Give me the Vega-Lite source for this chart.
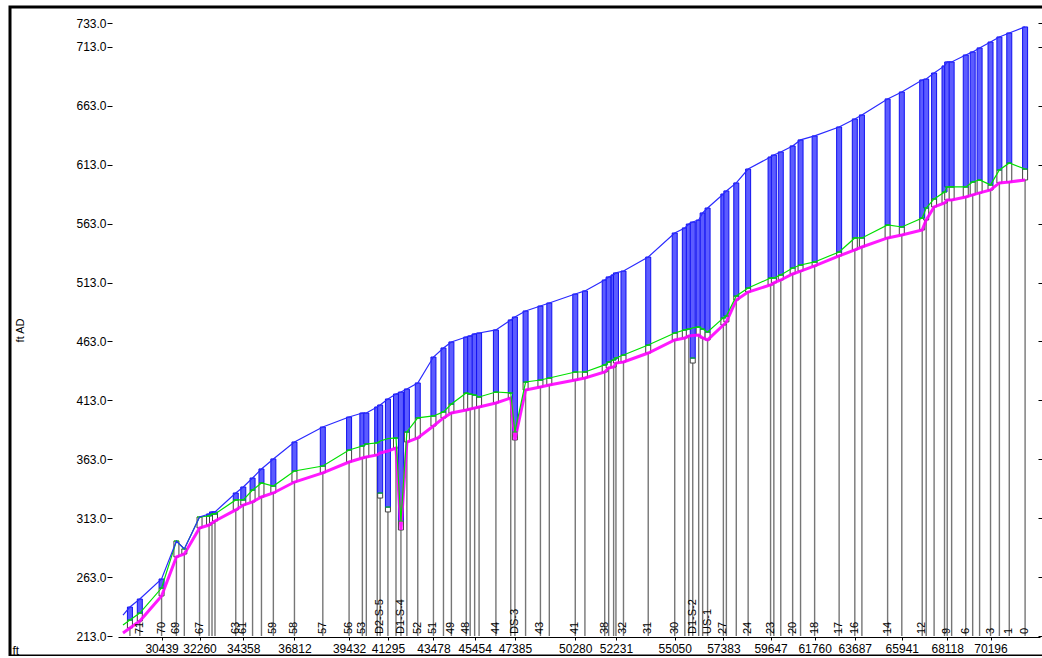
{
  "$schema": "https://vega.github.io/schema/vega-lite/v6.json",
  "width": 1040,
  "height": 649,
  "autosize": {"type": "none"},
  "padding": {"left": 10, "top": 7, "right": 0, "bottom": 0},
  "background": "white",
  "config": {
    "font": "Liberation Sans",
    "view": {"stroke": "#000000", "strokeWidth": 3}
  },
  "resolve": {"axis": {"y": "independent"}},
  "data": {
    "values": [
      {"x": 28589, "top": 230.8, "wl": 222.3, "pipe": 215.5},
      {"x": 28921, "top": 237.6, "hgl": 226.6, "inv": 219.8, "wl": 226.6, "pipe": 219.8},
      {"x": 29395, "top": 244.4, "hgl": 232.5, "inv": 225.7, "wl": 232.5, "pipe": 225.7, "lab": "71"},
      {"x": 30439, "top": 261.4, "hgl": 253.7, "inv": 247.0, "wl": 253.7, "pipe": 247.0, "lab": "70"},
      {"x": 31151, "top": 293.6, "hgl": 293.6, "inv": 280.1, "wl": 293.6, "pipe": 280.1, "lab": "69"},
      {"x": 31530, "top": 286.9, "hgl": 286.9, "inv": 282.6, "wl": 286.9, "pipe": 282.6},
      {"x": 32260, "top": 314.0, "hgl": 314.0, "inv": 304.7, "wl": 314.0, "pipe": 304.7, "lab": "67"},
      {"x": 32716, "top": 316.6, "hgl": 314.9, "inv": 307.2, "wl": 314.9, "pipe": 307.2},
      {"x": 32858, "top": 318.3, "hgl": 316.6, "inv": 308.9, "wl": 316.6, "pipe": 308.9},
      {"x": 33001, "top": 318.3, "hgl": 316.6, "inv": 310.6, "wl": 316.6, "pipe": 310.6},
      {"x": 33997, "top": 334.4, "hgl": 328.5, "inv": 320.0, "wl": 328.5, "pipe": 320.0, "lab": "63"},
      {"x": 34358, "top": 339.5, "hgl": 328.5, "inv": 324.2, "wl": 328.5, "pipe": 324.2, "lab": "61"},
      {"x": 34803, "top": 347.1, "hgl": 336.9, "inv": 326.8, "wl": 336.9, "pipe": 326.8},
      {"x": 35230, "top": 354.8, "hgl": 342.9, "inv": 331.0, "wl": 342.9, "pipe": 331.0},
      {"x": 35800, "top": 363.3, "hgl": 340.3, "inv": 334.4, "wl": 340.3, "pipe": 334.4, "lab": "59"},
      {"x": 36812, "top": 377.7, "hgl": 353.1, "inv": 343.7, "wl": 353.1, "pipe": 343.7, "lab": "58"},
      {"x": 38172, "top": 390.4, "hgl": 357.3, "inv": 351.4, "wl": 357.3, "pipe": 351.4, "lab": "57"},
      {"x": 39432, "top": 398.9, "hgl": 370.9, "inv": 360.7, "wl": 370.9, "pipe": 360.7, "lab": "56"},
      {"x": 40069, "top": 402.3, "hgl": 374.3, "inv": 364.1, "wl": 374.3, "pipe": 364.1, "lab": "53"},
      {"x": 40259, "top": 402.3, "hgl": 376.0, "inv": 365.0, "wl": 376.0, "pipe": 365.0},
      {"x": 40781, "top": 407.4, "hgl": 377.0, "inv": 366.7, "wl": 377.0, "pipe": 366.7},
      {"x": 40923, "top": 409.1, "hgl": 334.4, "inv": 330.1, "wl": 378.5, "pipe": 368.4, "lab": "D2-S-5"},
      {"x": 41295, "top": 414.2, "hgl": 322.5, "inv": 318.3, "wl": 380.5, "pipe": 370.0},
      {"x": 41682, "top": 418.4, "hgl": 381.1, "inv": 372.6, "wl": 381.1, "pipe": 372.6},
      {"x": 41919, "top": 420.1, "hgl": 310.6, "inv": 303.0, "wl": 310.6, "pipe": 303.0, "lab": "D1-S-4"},
      {"x": 42204, "top": 422.7, "hgl": 386.2, "inv": 377.7, "wl": 386.2, "pipe": 377.7},
      {"x": 42726, "top": 427.8, "hgl": 398.1, "inv": 381.1, "wl": 398.1, "pipe": 381.1, "lab": "52"},
      {"x": 43478, "top": 449.8, "hgl": 399.8, "inv": 391.3, "wl": 399.8, "pipe": 391.3, "lab": "51"},
      {"x": 43959, "top": 457.5, "hgl": 403.2, "inv": 398.1, "wl": 403.2, "pipe": 398.1},
      {"x": 44339, "top": 462.6, "hgl": 409.9, "inv": 402.3, "wl": 409.9, "pipe": 402.3, "lab": "49"},
      {"x": 45051, "top": 466.8, "hgl": 419.3, "inv": 404.9, "wl": 419.3, "pipe": 404.9, "lab": "48"},
      {"x": 45240, "top": 467.7, "hgl": 418.4, "inv": 405.7, "wl": 418.4, "pipe": 405.7},
      {"x": 45454, "top": 469.4, "hgl": 417.6, "inv": 406.5, "wl": 417.6, "pipe": 406.5},
      {"x": 45667, "top": 470.2, "hgl": 415.9, "inv": 407.4, "wl": 415.9, "pipe": 407.4},
      {"x": 46474, "top": 472.8, "hgl": 420.1, "inv": 410.8, "wl": 420.1, "pipe": 410.8, "lab": "44"},
      {"x": 47185, "top": 481.3, "hgl": 419.3, "inv": 415.0, "wl": 419.3, "pipe": 415.0},
      {"x": 47385, "top": 483.8, "hgl": 386.2, "inv": 379.4, "wl": 386.2, "pipe": 379.4, "lab": "DS-3"},
      {"x": 47897, "top": 488.9, "hgl": 428.6, "inv": 421.8, "wl": 428.6, "pipe": 421.8},
      {"x": 48609, "top": 493.1, "hgl": 430.3, "inv": 424.4, "wl": 430.3, "pipe": 424.4, "lab": "43"},
      {"x": 49035, "top": 495.7, "hgl": 432.0, "inv": 426.1, "wl": 432.0, "pipe": 426.1},
      {"x": 50280, "top": 503.3, "hgl": 437.1, "inv": 430.3, "wl": 437.1, "pipe": 430.3, "lab": "41"},
      {"x": 50743, "top": 505.9, "hgl": 437.1, "inv": 432.0, "wl": 437.1, "pipe": 432.0},
      {"x": 51692, "top": 515.2, "hgl": 443.1, "inv": 437.1, "wl": 443.1, "pipe": 437.1, "lab": "38"},
      {"x": 51882, "top": 517.8, "hgl": 445.6, "inv": 440.5, "wl": 445.6, "pipe": 440.5},
      {"x": 52119, "top": 519.5, "hgl": 447.3, "inv": 441.4, "wl": 447.3, "pipe": 441.4},
      {"x": 52231, "top": 521.2, "hgl": 449.0, "inv": 444.7, "wl": 449.0, "pipe": 444.7},
      {"x": 52593, "top": 522.8, "hgl": 451.5, "inv": 445.6, "wl": 451.5, "pipe": 445.6, "lab": "32"},
      {"x": 53779, "top": 534.7, "hgl": 460.0, "inv": 453.2, "wl": 460.0, "pipe": 453.2, "lab": "31"},
      {"x": 55050, "top": 555.1, "hgl": 470.2, "inv": 464.3, "wl": 470.2, "pipe": 464.3, "lab": "30"},
      {"x": 55535, "top": 559.4, "hgl": 472.8, "inv": 466.0, "wl": 472.8, "pipe": 466.0},
      {"x": 55725, "top": 562.7, "hgl": 473.6, "inv": 467.7, "wl": 473.6, "pipe": 467.7},
      {"x": 55914, "top": 564.4, "hgl": 449.0, "inv": 444.7, "wl": 474.5, "pipe": 468.0, "lab": "D1-S-2"},
      {"x": 56199, "top": 566.1, "hgl": 475.3, "inv": 468.5, "wl": 475.3, "pipe": 468.5},
      {"x": 56389, "top": 572.1, "hgl": 473.6, "inv": 466.0, "wl": 473.6, "pipe": 466.0},
      {"x": 56626, "top": 576.3, "hgl": 471.1, "inv": 464.3, "wl": 471.1, "pipe": 464.3, "lab": "US-1"},
      {"x": 57383, "top": 588.2, "hgl": 483.0, "inv": 477.0, "wl": 483.0, "pipe": 477.0, "lab": "27"},
      {"x": 57527, "top": 590.8, "hgl": 484.6, "inv": 479.6, "wl": 484.6, "pipe": 479.6},
      {"x": 58002, "top": 597.6, "hgl": 501.6, "inv": 498.2, "wl": 501.6, "pipe": 498.2},
      {"x": 58571, "top": 609.4, "hgl": 508.4, "inv": 505.0, "wl": 508.4, "pipe": 505.0, "lab": "24"},
      {"x": 59647, "top": 619.6, "hgl": 516.9, "inv": 511.0, "wl": 516.9, "pipe": 511.0, "lab": "23"},
      {"x": 59804, "top": 621.3, "hgl": 516.9, "inv": 512.7, "wl": 516.9, "pipe": 512.7},
      {"x": 60136, "top": 623.9, "hgl": 519.5, "inv": 515.2, "wl": 519.5, "pipe": 515.2},
      {"x": 60706, "top": 629.0, "hgl": 525.4, "inv": 520.3, "wl": 525.4, "pipe": 520.3, "lab": "20"},
      {"x": 61085, "top": 634.1, "hgl": 527.9, "inv": 522.8, "wl": 527.9, "pipe": 522.8},
      {"x": 61760, "top": 637.5, "hgl": 530.5, "inv": 527.1, "wl": 530.5, "pipe": 527.1, "lab": "18"},
      {"x": 62935, "top": 645.1, "hgl": 539.0, "inv": 535.6, "wl": 539.0, "pipe": 535.6, "lab": "17"},
      {"x": 63687, "top": 651.9, "hgl": 550.9, "inv": 540.7, "wl": 550.9, "pipe": 540.7, "lab": "16"},
      {"x": 64027, "top": 655.3, "hgl": 550.9, "inv": 543.2, "wl": 550.9, "pipe": 543.2},
      {"x": 65260, "top": 668.9, "hgl": 561.9, "inv": 550.9, "wl": 561.9, "pipe": 550.9, "lab": "14"},
      {"x": 65941, "top": 674.8, "hgl": 560.2, "inv": 553.4, "wl": 560.2, "pipe": 553.4},
      {"x": 66920, "top": 685.0, "hgl": 567.8, "inv": 557.7, "wl": 567.8, "pipe": 557.7, "lab": "12"},
      {"x": 67110, "top": 685.8, "hgl": 576.3, "inv": 566.1, "wl": 576.3, "pipe": 566.1},
      {"x": 67490, "top": 690.9, "hgl": 584.0, "inv": 577.2, "wl": 584.0, "pipe": 577.2},
      {"x": 67990, "top": 696.9, "hgl": 589.9, "inv": 580.6, "wl": 589.9, "pipe": 580.6},
      {"x": 68118, "top": 700.3, "hgl": 594.2, "inv": 583.1, "wl": 594.2, "pipe": 583.1, "lab": "9"},
      {"x": 68331, "top": 700.3, "hgl": 594.2, "inv": 583.1, "wl": 594.2, "pipe": 583.1},
      {"x": 69008, "top": 706.2, "hgl": 594.2, "inv": 585.7, "wl": 594.2, "pipe": 585.7, "lab": "6"},
      {"x": 69340, "top": 708.8, "hgl": 598.4, "inv": 587.4, "wl": 598.4, "pipe": 587.4},
      {"x": 69672, "top": 712.2, "hgl": 600.1, "inv": 589.1, "wl": 600.1, "pipe": 589.1},
      {"x": 70196, "top": 717.2, "hgl": 595.9, "inv": 591.6, "wl": 595.9, "pipe": 591.6, "lab": "3"},
      {"x": 70621, "top": 721.5, "hgl": 608.6, "inv": 597.6, "wl": 608.6, "pipe": 597.6},
      {"x": 71095, "top": 724.9, "hgl": 614.5, "inv": 598.4, "wl": 614.5, "pipe": 598.4, "lab": "1"},
      {"x": 71854, "top": 730.0, "hgl": 609.4, "inv": 600.1, "wl": 609.4, "pipe": 600.1, "lab": "0"}
    ]
  },
  "encoding": {
    "x": {
      "field": "x",
      "type": "quantitative",
      "scale": {"domain": [28589, 72329], "range": [108, 1030], "nice": false, "zero": false},
      "axis": {
        "values": [30439, 32260, 34358, 36812, 39432, 41295, 43478, 45454, 47385, 50280, 52231, 55050, 57383, 59647, 61760, 63687, 65941, 68118, 70196],
        "format": "d",
        "offset": -19,
        "grid": false,
        "domainColor": "#000000",
        "domainWidth": 1,
        "tickColor": "#000000",
        "tickSize": 3,
        "labelPadding": 3,
        "labelFontSize": 12,
        "labelColor": "#000000",
        "labelOverlap": false,
        "labelFlush": false,
        "labelBound": false,
        "title": "ft",
        "titleX": 2,
        "titleY": 17,
        "titleAlign": "left",
        "titleBaseline": "alphabetic",
        "titleFontSize": 12,
        "titleFontWeight": "normal",
        "titleColor": "#000000"
      }
    }
  },
  "layer": [
    {
      "mark": {"type": "rule", "color": "#767676", "strokeWidth": 1.4},
      "encoding": {
        "y": {
          "field": "inv",
          "type": "quantitative",
          "scale": {"domain": [213, 733], "range": [629, 16.4], "nice": false, "zero": false},
          "axis": {
            "values": [213, 263, 313, 363, 413, 463, 513, 563, 613, 663, 713, 733],
            "format": ".1f",
            "offset": -102,
            "domain": false,
            "grid": false,
            "tickSize": 5,
            "tickColor": "#000000",
            "labelPadding": 1,
            "labelFontSize": 12,
            "labelColor": "#000000",
            "labelOverlap": false,
            "labelBound": false,
            "labelFlush": false,
            "title": "ft AD",
            "titleX": -92,
            "titleY": 323,
            "titleAngle": -90,
            "titleAlign": "center",
            "titleBaseline": "middle",
            "titleFontSize": 11,
            "titleFontWeight": "normal",
            "titleColor": "#000000"
          }
        },
        "y2": {"datum": 213}
      }
    },
    {
      "mark": {"type": "bar", "width": 5, "fill": "#ffffff", "stroke": "#404040", "strokeWidth": 1},
      "encoding": {
        "y": {"field": "inv", "type": "quantitative", "scale": {"domain": [213, 733], "range": [629, 16.4], "nice": false, "zero": false}, "axis": null},
        "y2": {"field": "hgl"}
      }
    },
    {
      "transform": [{"filter": "datum.top > datum.hgl"}],
      "mark": {"type": "bar", "width": 5, "fill": "#5c5cff", "stroke": "#1010f0", "strokeWidth": 1},
      "encoding": {
        "y": {"field": "hgl", "type": "quantitative", "scale": {"domain": [213, 733], "range": [629, 16.4], "nice": false, "zero": false}, "axis": null},
        "y2": {"field": "top"}
      }
    },
    {
      "mark": {"type": "line", "color": "#ff00ff", "strokeWidth": 3, "opacity": 0.9},
      "encoding": {
        "y": {"field": "pipe", "type": "quantitative", "scale": {"domain": [213, 733], "range": [629, 16.4], "nice": false, "zero": false}, "axis": null}
      }
    },
    {
      "mark": {"type": "line", "color": "#00e000", "strokeWidth": 1.2},
      "encoding": {
        "y": {"field": "wl", "type": "quantitative", "scale": {"domain": [213, 733], "range": [629, 16.4], "nice": false, "zero": false}, "axis": null}
      }
    },
    {
      "mark": {"type": "tick", "color": "#00e000", "orient": "horizontal", "size": 5, "thickness": 1.5},
      "encoding": {
        "y": {"field": "hgl", "type": "quantitative", "scale": {"domain": [213, 733], "range": [629, 16.4], "nice": false, "zero": false}, "axis": null}
      }
    },
    {
      "mark": {"type": "line", "color": "#2a2aff", "strokeWidth": 1.2},
      "encoding": {
        "y": {
          "field": "top",
          "type": "quantitative",
          "scale": {"domain": [213, 733], "range": [629, 16.4], "nice": false, "zero": false},
          "axis": {
            "orient": "right",
            "values": [213, 263, 313, 363, 413, 463, 513, 563, 613, 663, 713, 733],
            "offset": -12,
            "domain": false,
            "grid": false,
            "labels": false,
            "tickSize": 4,
            "tickColor": "#000000",
            "title": null
          }
        }
      }
    },
    {
      "transform": [{"filter": "isValid(datum.lab)"}],
      "mark": {"type": "text", "angle": 270, "align": "left", "baseline": "middle", "dx": 2, "fontSize": 11, "color": "#000000"},
      "encoding": {
        "y": {"datum": 213, "type": "quantitative", "scale": {"domain": [213, 733], "range": [629, 16.4], "nice": false, "zero": false}, "axis": null},
        "text": {"field": "lab"}
      }
    }
  ]
}
